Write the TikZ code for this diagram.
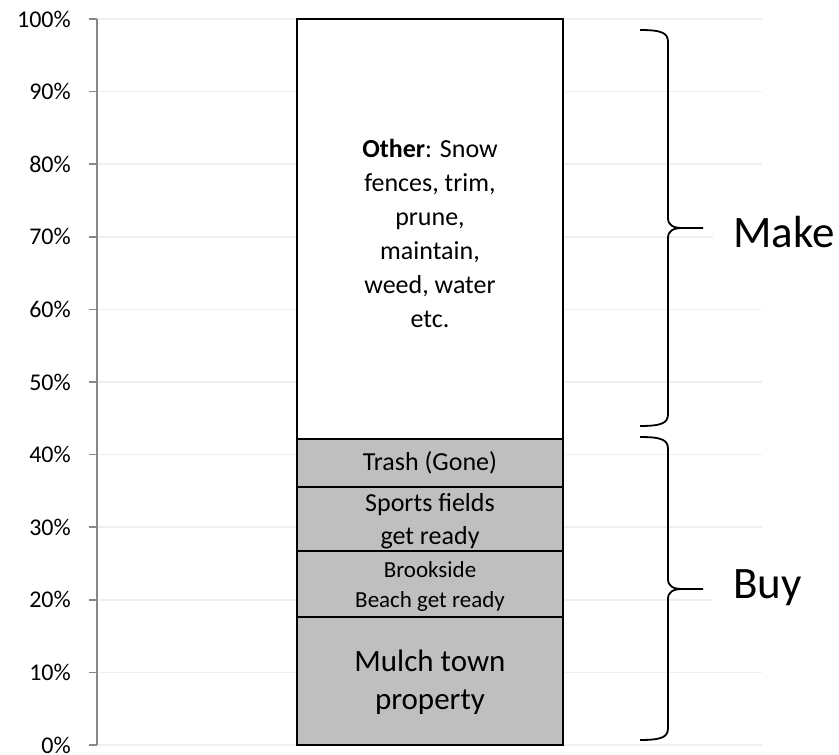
\documentclass[tikz,border=0pt]{standalone}
\usepackage{fontspec}
\setmainfont{Carlito}

\definecolor{gridgray}{HTML}{EFEFEF}
\definecolor{axisgray}{HTML}{878787}
\definecolor{segfill}{HTML}{BFBFBF}

\tikzset{
    seg/.style = {draw=black, line width=1.6pt, fill=segfill},
    bracepath/.style = {line width=1.8pt, line join=round},
    ticklabel/.style = {anchor=east, inner sep=2pt, font=\fontsize{24}{28}\selectfont},
    bigside/.style = {anchor=west, fill=white, inner xsep=20pt, inner ysep=4pt, font=\fontsize{45}{50}\selectfont},
}

\begin{document}
\begin{tikzpicture}[x=1pt, y=1pt]
        \useasboundingbox (-97,-10) rectangle (742,745);

        % grid and axis
        \foreach \i in {0,...,10} {
            \pgfmathsetmacro{\yy}{\i*72.6}
            \draw[gridgray, line width=1.5pt] (0,\yy) -- (665,\yy);
            \draw[axisgray, line width=1.5pt] (-8,\yy) -- (0,\yy);
            \pgfmathtruncatemacro{\pc}{\i*10}
            \node[ticklabel] (tick\i) at (-24,\yy) {\pc\%};
        }
        \draw[axisgray, line width=1.5pt] (0,0) -- (0,726);

        % stacked bar
        \draw[seg] (200,0) rectangle (466,128);
        \draw[seg] (200,128) rectangle (466,194);
        \draw[seg] (200,194) rectangle (466,258);
        \draw[seg] (200,258) rectangle (466,306);
        \draw[seg, fill=white] (200,306) rectangle (466,726);

        \node[align=center, font=\fontsize{31}{38}\selectfont] (mulch) at (333,63) {Mulch town\\property};
        \node[align=center, font=\fontsize{23}{30}\selectfont] (brook) at (333,159) {Brookside\\Beach get ready};
        \node[align=center, font=\fontsize{26}{33}\selectfont] (sports) at (333,224) {Sports fields\\get ready};
        \node[font=\fontsize{26}{33}\selectfont] (trash) at (333,282) {Trash (Gone)};
        \node[align=center, font=\fontsize{26}{34}\selectfont] (other) at (333,512)
            {\textbf{Other}: Snow\\fences, trim,\\prune,\\maintain,\\weed, water\\etc.};

        % braces
        \coordinate (maketip) at (606,517);
        \coordinate (buytip) at (606,156);
        \draw[bracepath] (543,715) .. controls (565,715) and (571,712) .. (571,703)
            -- (571,527) .. controls (571,520) and (576,517) .. (585,517) -- (maketip);
        \draw[bracepath] (585,517) .. controls (576,517) and (571,514) .. (571,507)
            -- (571,331) .. controls (571,322) and (565,319) .. (543,319);
        \draw[bracepath] (543,308) .. controls (565,308) and (571,305) .. (571,296)
            -- (571,166) .. controls (571,159) and (576,156) .. (585,156) -- (buytip);
        \draw[bracepath] (585,156) .. controls (576,156) and (571,153) .. (571,146)
            -- (571,17) .. controls (571,8) and (565,5) .. (543,5);

        \node[bigside] (make) at (616,513) {Make};
        \node[bigside] (buy) at (616,157) {Buy};
\end{tikzpicture}
\end{document}
